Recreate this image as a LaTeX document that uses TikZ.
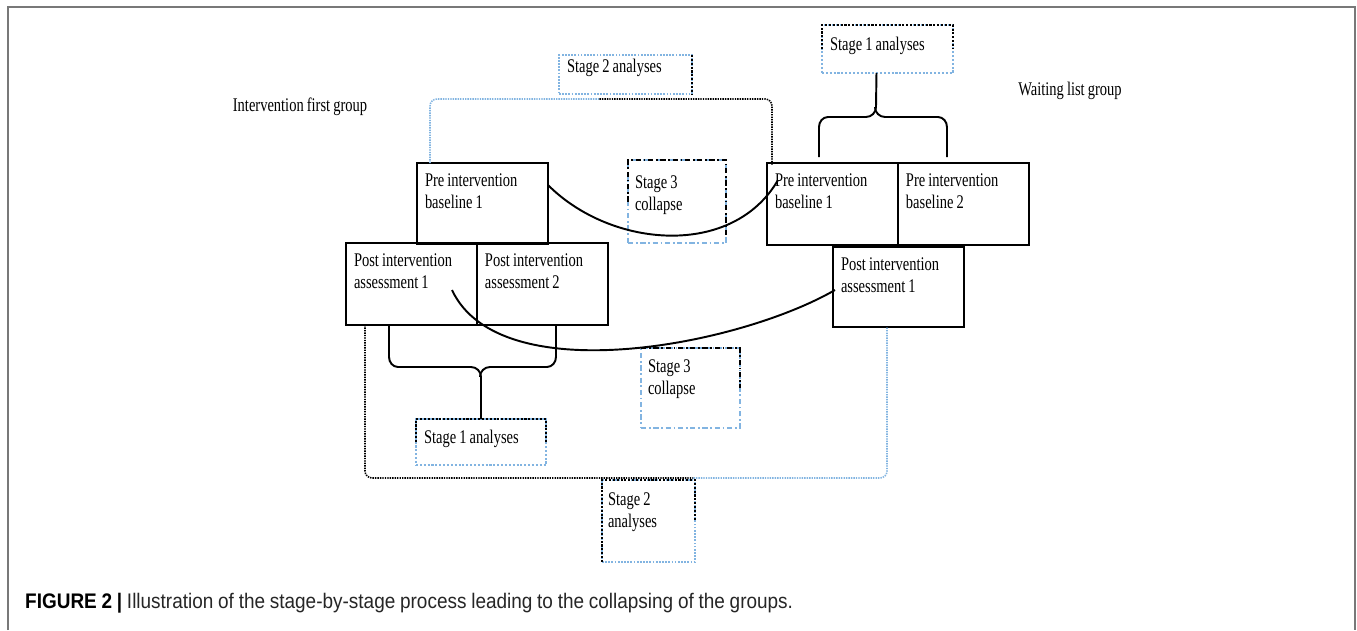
\documentclass[tikz,border=0pt]{standalone}
\usepackage{fontspec}
\setmainfont{Liberation Serif}
\newfontfamily\figfont[FakeStretch=0.75, WordSpace=0.85]{Liberation Serif}
\newfontfamily\capfont[FakeStretch=0.9, WordSpace=0.9]{Liberation Sans}
\usetikzlibrary{positioning,calc}
\definecolor{dotblue}{RGB}{130,180,225}
\definecolor{framegray}{RGB}{120,120,120}

\begin{document}
\begin{tikzpicture}[
    x=0.02cm, y=-0.02cm,
    card/.style={rectangle, draw, line width=0.9pt, outer sep=0pt, anchor=north west, align=left,
        inner xsep=0pt, inner ysep=0pt, minimum width=2.62cm, text width=2.3cm,
        text height=0.46cm, text depth=1.16cm, font=\figfont\fontsize{11}{13}\selectfont,
        execute at begin node={\spaceskip=0pt\xspaceskip=0pt}},
    s1box/.style={card, draw=dotblue, dash pattern=on 1.2pt off 1pt},
    s2box/.style={card, draw=dotblue, dash pattern=on 1pt off 0.8pt},
    s3box/.style={card, draw=dotblue, dash pattern=on 3pt off 1.5pt on 1pt off 1.5pt},
    inkdot/.style={line width=0.9pt, dash pattern=on 1.2pt off 1pt},
    inkdashdot/.style={line width=1pt, dash pattern=on 3pt off 1.5pt on 1pt off 1.5pt},
    s2line/.style={line width=0.9pt, dash pattern=on 0.8pt off 0.6pt, rounded corners=4pt},
    brace/.style={line width=1.1pt},
    curve/.style={line width=1.1pt},
    heading/.style={font=\figfont\fontsize{11}{13}\selectfont},
]
\useasboundingbox (0,0) rectangle (1357,630);
\draw[framegray, line width=1.1pt] (8,630) |- (1355,7) -- (1355,630);

% group headings
\node[heading] (ifg) at (300,107) {Intervention first group};
\node[heading] (wlg) at (1070,91) {Waiting list group};

% intervention first group
\node[card] (preL) at (417,163) {Pre intervention\\baseline 1};
\node[card, text depth=1.18cm] (postL1) at (346,243) {Post intervention\\assessment 1};
\node[card, text depth=1.18cm, right=0pt of postL1] (postL2) {Post intervention\\assessment 2};

% waiting list group
\node[card, text depth=1.18cm] (preR) at (767,163) {Pre intervention\\baseline 1};
\node[card, text depth=1.18cm, right=0pt of preR] (preR2) {Pre intervention\\baseline 2};
\node[card, text depth=1.14cm] (postR) at (833,247) {Post intervention\\assessment 1};

% stage boxes
\node[s1box, text height=0.5cm, text depth=0.46cm] (s1top) at (822,25) {Stage 1 analyses};
\node[s1box, text height=0.48cm, text depth=0.44cm, minimum width=2.6cm, text width=2.28cm] (s1bot) at (416,419) {Stage 1 analyses};
\node[s2box, text height=0.34cm, text depth=0.44cm, minimum width=2.66cm, text width=2.34cm] (s2top) at (559,55) {Stage 2 analyses};
\node[s2box, text height=0.5cm, text depth=1.14cm, minimum width=1.86cm, text width=1.62cm] (s2bot) at (602,480) {Stage 2\\analyses};
\node[s3box, text height=0.56cm, text depth=1.10cm, minimum width=1.96cm, text width=1.68cm] (s3top) at (628,160) {Stage 3\\collapse};
\node[s3box, text height=0.48cm, text depth=1.12cm, minimum width=1.98cm, text width=1.70cm] (s3bot) at (641,348) {Stage 3\\collapse};

% black part of the stage borders
\draw[inkdot] (s1top.west) |- (s1top.north east) -- (s1top.east);
\draw[inkdot] (s1bot.west) |- (s1bot.north east) -- (s1bot.east);
\draw[inkdot] (s2top.north east) -- (s2top.south east);
\draw[inkdot] (s2bot.south west) |- (s2bot.north east) -- (s2bot.east);
\draw[inkdashdot] (s3top.west) |- (s3top.north east) -- ($(s3top.south east)+(0,-8)$);
\draw[inkdashdot] (s3bot.north west) -- (s3bot.north east) -- (s3bot.east);

% stage 1 braces
\draw[brace] ($(preR.north west)+(52,-6)$) -- ++(0,-30) to[out=90,in=180] ++(9,-10) -- ++(38,0) to[out=0,in=-90] ++(10,-10) -- ($(s1top.south)+(-11,0)$);
\draw[brace] ($(preR2.north west)+(49,-6)$) -- ++(0,-30) to[out=90,in=0] ++(-9,-10) -- ++(-53,0) to[out=180,in=-90] ++(-10,-10);
\draw[brace] ($(postL1.south west)+(43,0)$) -- ++(0,32) to[out=-90,in=180] ++(9,10) -- ++(73,0) to[out=0,in=90] ++(10,10) -- (s1bot.north);
\draw[brace] ($(postL2.south west)+(79,0)$) -- ++(0,32) to[out=-90,in=0] ++(-9,10) -- ++(-57,0) to[out=180,in=90] ++(-10,10);

% stage 2 brackets
\draw[s2line, dotblue] ($(preL.north west)+(13,0)$) |- ($(s2top.south)+(-26,5)$);
\draw[s2line] ($(s2top.south)+(-26,5)$) -| ($(preR.north west)+(5,2)$);
\draw[s2line] ($(postL1.south west)+(19,0)$) |- ($(s2bot.north)+(45,-2)$);
\draw[s2line, dotblue] ($(s2bot.north)+(45,-2)$) -| ($(postR.south west)+(54,0)$);

% stage 3 collapse curves
\draw[curve] ($(preL.north east)+(0,22)$) to[out=-45,in=-120] ($(preR.north west)+(11,17)$);
\draw[curve] ($(postL1.north west)+(106,47)$) to[out=-65,in=-150,looseness=0.75] ($(postR.north west)+(2,43)$);

% caption
\node[anchor=west, font=\capfont\fontsize{12}{14}\selectfont, text=black!85] (cap) at (19,603)
    {\textbf{\color{black}FIGURE 2 |} Illustration of the stage-by-stage process leading to the collapsing of the groups.};
\end{tikzpicture}
\end{document}
